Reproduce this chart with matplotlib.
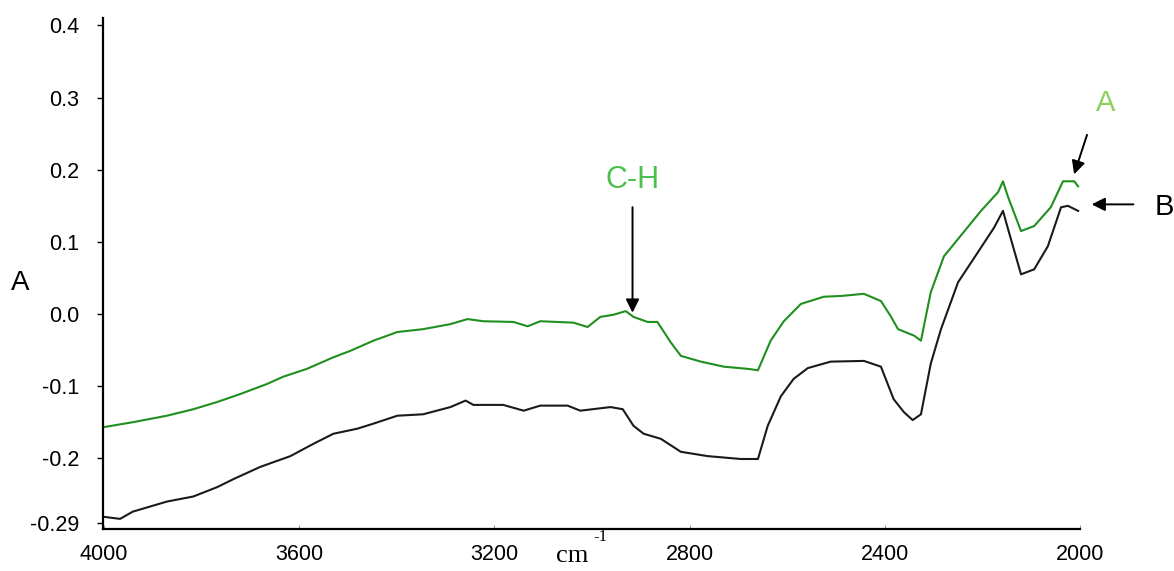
import matplotlib
matplotlib.use("Agg")
import matplotlib.pyplot as plt

# wavenumber (cm-1) and absorbance
wn_a = [4002, 3941, 3871, 3817, 3768, 3721, 3666, 3633, 3584, 3530, 3495, 3448, 3399,
        3346, 3290, 3255, 3223, 3161, 3132, 3106, 3038, 3009, 2983, 2956, 2931, 2915,
        2886, 2866, 2839, 2818, 2777, 2730, 2681, 2660, 2634, 2607, 2572, 2525, 2490,
        2443, 2408, 2388, 2373, 2340, 2326, 2306, 2279, 2250, 2203, 2168, 2158, 2148,
        2121, 2094, 2060, 2035, 2012, 2004]
abs_a = [-0.157, -0.150, -0.141, -0.132, -0.122, -0.111, -0.097, -0.087, -0.076, -0.060,
         -0.051, -0.037, -0.025, -0.021, -0.014, -0.007, -0.010, -0.011, -0.017, -0.010,
         -0.012, -0.018, -0.004, -0.001, 0.004, -0.004, -0.011, -0.011, -0.039, -0.058,
         -0.066, -0.073, -0.076, -0.078, -0.037, -0.010, 0.014, 0.024, 0.025, 0.028,
         0.018, -0.003, -0.021, -0.030, -0.037, 0.030, 0.080, 0.104, 0.143, 0.169,
         0.184, 0.163, 0.115, 0.122, 0.148, 0.184, 0.184, 0.177]

wn_b = [4002, 3967, 3941, 3871, 3817, 3768, 3735, 3680, 3618, 3571, 3530, 3481, 3448,
        3399, 3346, 3290, 3259, 3243, 3182, 3140, 3106, 3050, 3024, 2962, 2937, 2915,
        2894, 2859, 2818, 2763, 2695, 2660, 2640, 2613, 2587, 2558, 2511, 2443, 2408,
        2382, 2361, 2343, 2326, 2306, 2285, 2250, 2209, 2176, 2158, 2146, 2121, 2094,
        2066, 2039, 2025, 2004]
abs_b = [-0.281, -0.284, -0.274, -0.260, -0.253, -0.240, -0.229, -0.212, -0.197, -0.180,
         -0.166, -0.159, -0.152, -0.141, -0.139, -0.129, -0.120, -0.126, -0.126, -0.134,
         -0.127, -0.127, -0.134, -0.129, -0.132, -0.155, -0.166, -0.173, -0.191, -0.197,
         -0.201, -0.201, -0.155, -0.114, -0.090, -0.075, -0.066, -0.065, -0.073, -0.118,
         -0.136, -0.147, -0.139, -0.069, -0.021, 0.044, 0.086, 0.120, 0.143, 0.114,
         0.055, 0.062, 0.094, 0.148, 0.150, 0.143]

x_ticks = [4000, 3600, 3200, 2800, 2400, 2000]
y_ticks = [-0.29, -0.2, -0.1, 0.0, 0.1, 0.2, 0.3, 0.4]
y_labels = ["-0.29", "-0.2", "-0.1", "0.0", "0.1", "0.2", "0.3", "0.4"]

plt.rcParams['font.family'] = ['Liberation Sans', 'DejaVu Sans']

fig = plt.figure(figsize=(11.74, 5.71), dpi=100)
ax = fig.add_axes([0.0877, 0.0736, 0.8323, 0.8944])

ax.plot(wn_a, abs_a, color='#1f8f1f', lw=1.5)
ax.plot(wn_b, abs_b, color='#1a1a1a', lw=1.5)

ax.set_xlim(4002, 2000)
ax.set_ylim(-0.298, 0.41)

ax.set_xticks(x_ticks)
ax.set_xticklabels([str(v) for v in x_ticks])
ax.set_yticks(y_ticks)
ax.set_yticklabels(y_labels)
ax.tick_params(axis='y', direction='out', length=4, width=1, labelsize=15.5, pad=13)
ax.tick_params(axis='x', direction='in', length=3, width=0.8, color='#999999',
               labelsize=15.5, pad=11)

for s in ['top', 'right']:
    ax.spines[s].set_visible(False)
for s in ['left', 'bottom']:
    ax.spines[s].set_linewidth(1.6)

arrow = dict(arrowstyle='-|>', color='black', lw=1.4, mutation_scale=20)

# C-H band marker
ax.annotate('', xy=(2917, -0.002), xytext=(2917, 0.152), arrowprops=arrow)
ax.text(2917, 0.186, 'C-H', color='#4cc04c', fontsize=22, ha='center', va='center')

# curve labels
ax.annotate('', xy=(2014, 0.19), xytext=(1984, 0.252), arrowprops=arrow,
            annotation_clip=False)
ax.text(1947, 0.293, 'A', color='#8ccf5a', fontsize=21, ha='center', va='center',
        clip_on=False)
ax.annotate('', xy=(1982, 0.152), xytext=(1885, 0.152), arrowprops=arrow,
            annotation_clip=False)
ax.text(1828, 0.149, 'B', color='black', fontsize=21, ha='center', va='center',
        clip_on=False)

# axis titles
fig.text(0.0170, 0.504, 'A', fontsize=20, ha='center', va='center')
fig.text(0.487, 0.026, 'cm', fontsize=19, family='Liberation Serif',
         ha='center', va='center')
fig.text(0.511, 0.060, '-1', fontsize=12, family='Liberation Serif',
         ha='center', va='center')

fig.savefig('out.png', dpi=100)
